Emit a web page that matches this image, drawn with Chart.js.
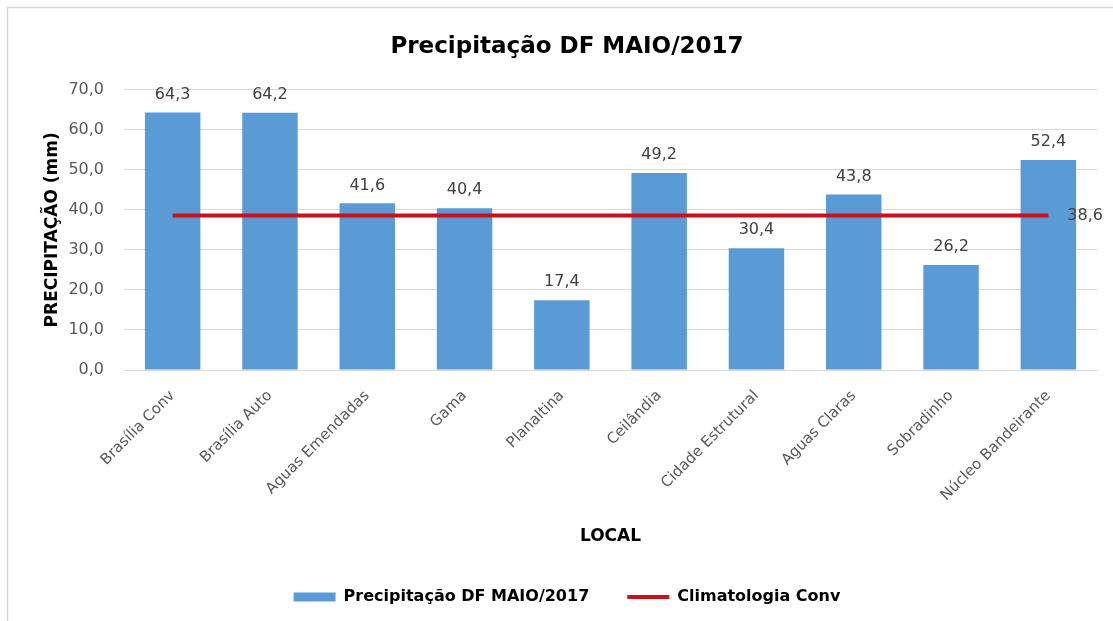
<!DOCTYPE html>
<html>
<head>
<meta charset="utf-8">
<script src="https://cdn.jsdelivr.net/npm/chart.js@4.4.1/dist/chart.umd.min.js"></script>
<style>
html,body{margin:0;padding:0;background:#fff;}
#wrap{width:1113px;height:621px;position:relative;}
</style>
</head>
<body>
<div id="wrap"><canvas id="c" width="1113" height="621"></canvas></div>
<script>
const categories = ["Brasília Conv","Brasília Auto","Aguas Emendadas","Gama","Planaltina","Ceilândia","Cidade Estrutural","Aguas Claras","Sobradinho","Núcleo Bandeirante"];
const precipitacao = [64.3, 64.2, 41.6, 40.4, 17.4, 49.2, 30.4, 43.8, 26.2, 52.4];
const climatologia = [38.6, 38.6, 38.6, 38.6, 38.6, 38.6, 38.6, 38.6, 38.6, 38.6];
const yTicks = [0, 10, 20, 30, 40, 50, 60, 70];

const FONT = "'DejaVu Sans', 'Open Sans', sans-serif";
const fmt = v => v.toFixed(1).replace('.', ',');

const bgPlugin = {
  id: 'bg',
  beforeDraw(chart) {
    const ctx = chart.ctx;
    ctx.save();
    ctx.fillStyle = '#ffffff';
    ctx.fillRect(0, 0, chart.width, chart.height);
    ctx.strokeStyle = '#d9d9d9';
    ctx.lineWidth = 1.5;
    ctx.beginPath();
    ctx.moveTo(7.5, chart.height);
    ctx.lineTo(7.5, 7.5);
    ctx.lineTo(chart.width, 7.5);
    ctx.stroke();
    ctx.restore();
  }
};

const labelPlugin = {
  id: 'labels',
  afterDatasetsDraw(chart) {
    const ctx = chart.ctx;
    ctx.save();
    ctx.font = '16px ' + FONT;
    ctx.fillStyle = '#404040';
    ctx.textBaseline = 'middle';
    const barMeta = chart.getDatasetMeta(0);
    ctx.textAlign = 'center';
    barMeta.data.forEach((el, i) => {
      ctx.fillText(fmt(precipitacao[i]), el.x, el.y - 18);
    });
    const lineMeta = chart.getDatasetMeta(1);
    const last = lineMeta.data[lineMeta.data.length - 1];
    ctx.textAlign = 'left';
    ctx.fillText(fmt(climatologia[climatologia.length - 1]), last.x + 19, last.y);
    ctx.restore();
  }
};

new Chart(document.getElementById('c'), {
  data: {
    labels: categories,
    datasets: [
      {
        type: 'bar',
        label: 'Precipitação DF MAIO/2017',
        data: precipitacao,
        backgroundColor: '#5b9bd5',
        borderWidth: 0,
        categoryPercentage: 1.0,
        barPercentage: 0.57,
        order: 2
      },
      {
        type: 'line',
        label: 'Climatologia Conv',
        data: climatologia,
        borderColor: '#c8101e',
        backgroundColor: '#c8101e',
        borderWidth: 4,
        pointRadius: 0,
        fill: false,
        order: 1
      }
    ]
  },
  options: {
    responsive: false,
    animation: false,
    devicePixelRatio: 1,
    layout: { padding: { left: 37, right: 16, top: 20, bottom: 6 } },
    plugins: {
      tooltip: { enabled: false },
      title: {
        display: true,
        text: 'Precipitação DF MAIO/2017',
        color: '#000000',
        font: { family: FONT, size: 23, weight: 'bold' },
        padding: { top: 13, bottom: 29 }
      },
      legend: {
        position: 'bottom',
        labels: {
          font: { family: FONT, size: 16, weight: 'bold' },
          color: '#000000',
          usePointStyle: true,
          pointStyleWidth: 42,
          boxHeight: 9,
          padding: 38,
          generateLabels: () => [
            { text: 'Precipitação DF MAIO/2017', fillStyle: '#5b9bd5', strokeStyle: '#5b9bd5', lineWidth: 0, pointStyle: 'rect', datasetIndex: 0, hidden: false, fontColor: '#000' },
            { text: 'Climatologia Conv', fillStyle: '#c8101e', strokeStyle: '#c8101e', lineWidth: 4, pointStyle: 'line', datasetIndex: 1, hidden: false, fontColor: '#000' }
          ]
        }
      }
    },
    scales: {
      x: {
        grid: { display: false, drawTicks: false },
        border: { display: true, color: '#d9d9d9', width: 1 },
        ticks: {
          font: { family: FONT, size: 15 },
          color: '#595959',
          minRotation: 45,
          maxRotation: 45,
          padding: 17
        },
        title: {
          display: true,
          text: 'LOCAL',
          color: '#000000',
          font: { family: FONT, size: 17, weight: 'bold', lineHeight: '20px' }
        },
        afterFit(scale) { scale.height = 181; }
      },
      y: {
        min: 0,
        max: 70,
        afterBuildTicks(scale) { scale.ticks = yTicks.map(v => ({ value: v })); },
        grid: { color: '#d9d9d9', drawTicks: false, lineWidth: 1 },
        border: { display: false },
        ticks: {
          font: { family: FONT, size: 16 },
          color: '#595959',
          padding: 20,
          callback: v => fmt(v)
        },
        title: {
          display: true,
          text: 'PRECIPITAÇÃO (mm)',
          color: '#000000',
          font: { family: FONT, size: 17, weight: 'bold', lineHeight: '24px' }
        },
        afterFit(scale) { scale.width = 87; }
      }
    }
  },
  plugins: [bgPlugin, labelPlugin]
});
</script>
</body>
</html>
